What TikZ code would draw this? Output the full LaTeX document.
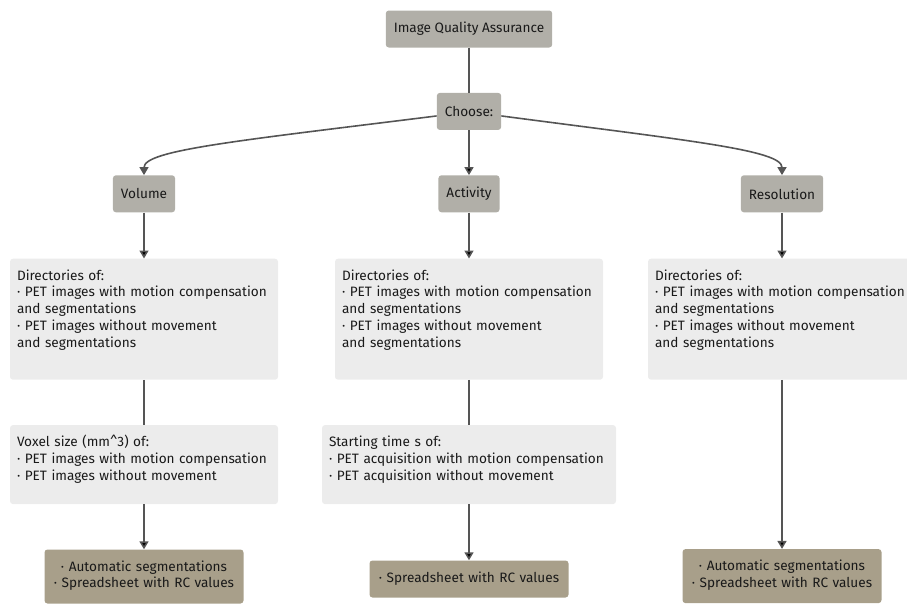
\documentclass[tikz,border=0pt]{standalone}
\usepackage{fontspec}
\setmainfont{Fira Sans}
\usepackage{tikz}
\usetikzlibrary{arrows.meta, positioning}
\definecolor{taggray}{HTML}{B1AFA8}
\definecolor{panelgray}{HTML}{ECECEC}
\definecolor{outtan}{HTML}{A89F8A}
\definecolor{linegray}{HTML}{555555}

\begin{document}
\begin{tikzpicture}[x=1pt, y=-1pt, font=\fontsize{13.6}{16.7}\selectfont, text=black!90,
    tag/.style={rectangle, fill=taggray, rounded corners=3pt, minimum height=37pt, inner xsep=8pt},
    panel/.style={rectangle, fill=panelgray, rounded corners=3pt, align=left, inner xsep=7pt, inner ysep=0pt, text height=21.5pt},
    outbox/.style={rectangle, fill=outtan, rounded corners=3pt, align=center, text width=183pt, inner xsep=8pt, inner ysep=0pt, text height=21.5pt},
    link/.style={draw=linegray, line width=1.6pt},
    arr/.style={link, -{Triangle[length=8pt, width=9pt]}},
    node distance=45pt]
        \useasboundingbox (0,0) rectangle (907,603);
        \clip (0,0) rectangle (907,603);
        % top of the tree
        \node[tag] (iqa) at (469,29) {Image Quality Assurance};
        \node[tag] (choose) [below=of iqa] {Choose:};
        \node[tag] (act) [below=of choose] {Activity};
        \node[tag] (vol) [below=of choose, xshift=-325pt] {Volume};
        \node[tag] (res) [below=of choose, xshift=313pt] {Resolution};

        % input directories
        \node[panel, text width=254pt, text depth=99.5pt] (vdir) [below=46pt of vol] {Directories of:\\ · PET images with motion compensation\\ and segmentations\\ · PET images without movement\\ and segmentations};
        \node[panel, text width=254pt, text depth=99.5pt] (adir) [below=46pt of act] {Directories of:\\ · PET images with motion compensation\\ and segmentations\\ · PET images without movement\\ and segmentations};
        \node[panel, text width=254pt, text depth=99.5pt] (rdir) [below=46pt of res] {Directories of:\\ · PET images with motion compensation\\ and segmentations\\ · PET images without movement\\ and segmentations};

        % extra inputs
        \node[panel, text width=254pt, text depth=57.5pt] (voxel) [below=of vdir] {Voxel size (mm\textasciicircum 3) of:\\ · PET images with motion compensation\\ · PET images without movement};
        \node[panel, text width=280pt, text depth=57.5pt] (start) [below=of adir] {Starting time s of:\\ · PET acquisition with motion compensation\\ · PET acquisition without movement};

        % outputs
        \node[outbox, text depth=32.5pt] (vout) [below=of voxel] {· Automatic segmentations\\ · Spreadsheet with RC values};
        \node[outbox, text depth=15.5pt] (aout) [below=56pt of start] {· Spreadsheet with RC values};
        \node[outbox, text depth=32.5pt] (rout) [below=169pt of rdir] {· Automatic segmentations\\ · Spreadsheet with RC values};

        \path[link] (iqa) edge (choose);
        \path[arr] (choose) edge (act);
        \draw[arr] (choose.188) .. controls +(-200,25) and +(0,-25) .. (vol.north);
        \draw[arr] (choose.352) .. controls +(190,25) and +(0,-25) .. (res.north);
        \path[arr] (vol) edge (vdir) (act) edge (adir) (res) edge (rdir);
        \path[link] (vdir) edge (voxel) (adir) edge (start);
        \path[arr] (voxel) edge (vout) (start) edge (aout) (rdir) edge (rout);
    \end{tikzpicture}
\end{document}
